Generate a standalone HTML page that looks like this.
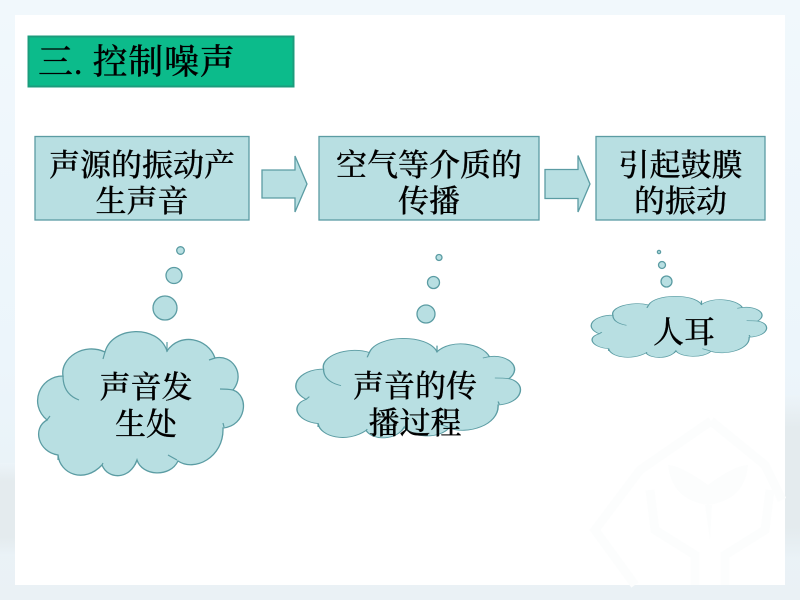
<!DOCTYPE html>
<html><head><meta charset="utf-8">
<style>
html,body{margin:0;padding:0;width:800px;height:600px;overflow:hidden;background:#fff}
.t{position:absolute;white-space:nowrap;text-align:center;color:#000;font-family:"Liberation Serif","Noto Serif CJK SC",serif;font-size:31px;line-height:36px;font-weight:500;-webkit-text-stroke:.2px #000;filter:blur(.35px)}
svg{position:absolute;left:0;top:0}
</style></head><body>
<svg width="800" height="600" viewBox="0 0 800 600">
<defs>
<linearGradient id="side" x1="0" y1="0" x2="0" y2="1">
<stop offset="0" stop-color="#f1f8fc"/><stop offset=".6" stop-color="#ecf5fb"/><stop offset=".85" stop-color="#e9f2f7"/><stop offset="1" stop-color="#eaf1f5"/>
</linearGradient>
<linearGradient id="strip" x1="0" y1="0" x2="0" y2="1">
<stop offset="0" stop-color="#ecf4f9"/><stop offset=".2" stop-color="#e4ebee"/><stop offset=".8" stop-color="#e4ebee"/><stop offset="1" stop-color="#eaf2f7"/>
</linearGradient>
<path id="cloud" d="M63,376 C60,358 84,342 105,352 C112,326 158,324 167,351 C180,332 208,338 215,358 C232,354 246,374 233,390 C250,396 246,426 223,428 C224,458 194,472 178,461 C170,478 142,476 137,460 C130,480 108,480 102,465 C84,484 60,474 58,455 C38,452 32,428 47,420 C28,404 40,376 63,376 Z"/>
<path id="inner" d="M63,376 Q63,394 79,400 M105,352 L103,359 M167,342 L167,352 M209,360 L215,358 M220,389 Q228,389 233,390 M224,427 L223,423 M177,460 L168,455 M137,460 L135,465 M102,465 L103,463 M58,455 L58,460 M47,420 L50,416"/>
</defs>
<rect width="800" height="600" fill="url(#side)"/>
<rect x="785" y="395" width="15" height="165" fill="url(#strip)"/>
<rect x="0" y="463" width="15" height="93" fill="url(#strip)"/>
<rect x="15" y="15" width="770" height="570" fill="#fff"/>
<g fill="none" stroke="#fcfdfd" stroke-width="9">
<path d="M711,421 L765,465 L782,500 M711,421 L640,470 L595,530 L635,585"/>
<path d="M650,490 L655,530 L695,555 L695,585 M770,490 L765,530 L725,555 L725,585"/>
</g>
<path d="M668,465 Q680,465 708,485 Q735,465 748,465 Q745,500 708,505 Q672,500 668,465 Z M705,505 L712,505 L710,540 Z" fill="#fcfdfd"/>

<g fill="#b8dfe2" stroke="#5b9ca3" stroke-width="1.3">
<rect x="28.500" y="36.500" width="265" height="50" fill="#0cbb8b" stroke="#1b9c7c" stroke-width="2"/>
<rect x="35" y="136.500" width="214" height="83.500"/>
<rect x="319" y="136.500" width="220" height="83.500"/>
<rect x="596" y="136.500" width="169" height="83.500"/>
<path d="M262,170 H295 V156 L307,184 L295,212 V198 H262 Z"/>
<path d="M545,169.500 H578 V155.500 L590,184 L578,212 V198.500 H545 Z"/>
<circle cx="180.500" cy="250.500" r="3.800"/><circle cx="174" cy="275.500" r="8"/><circle cx="165" cy="308" r="12"/>
<circle cx="439" cy="257.500" r="3"/><circle cx="433.500" cy="282.500" r="6"/><circle cx="426" cy="314" r="9"/>
<circle cx="659" cy="252" r="1.600"/><circle cx="662" cy="265" r="3.500"/><circle cx="666.500" cy="281.500" r="5.500"/>
<use href="#cloud"/>
<use href="#cloud" transform="translate(293,338) scale(1.091,.69) translate(-35,-331)" stroke-width="1.300"/>
<use href="#cloud" transform="translate(589,296) scale(.852,.425) translate(-35,-331)" stroke-width="1.500"/>
</g>
<g fill="none" stroke="#5b9ca3" stroke-width="1.200">
<use href="#inner"/>
<use href="#inner" transform="translate(293,338) scale(1.091,.69) translate(-35,-331)"/>
<use href="#inner" transform="translate(589,296) scale(.852,.425) translate(-35,-331)" stroke-width="1.500"/>
</g>
</svg>
<div class="t" style="left:38px;top:43px;font-size:35px;line-height:40px;width:220px;text-align:left;letter-spacing:.7px">三. 控制噪声</div>
<div class="t" style="left:35px;top:148px;width:214px">声源的振动产<br>生声音</div>
<div class="t" style="left:319px;top:148px;width:220px">空气等介质的<br>传播</div>
<div class="t" style="left:596px;top:148px;width:169px">引起鼓膜<br>的振动</div>
<div class="t" style="left:46px;top:369px;width:200px;line-height:37px">声音发<br>生处</div>
<div class="t" style="left:315px;top:368px;width:200px;line-height:37px">声音的传<br>播过程</div>
<div class="t" style="left:584px;top:315px;width:200px">人耳</div>
</body></html>
